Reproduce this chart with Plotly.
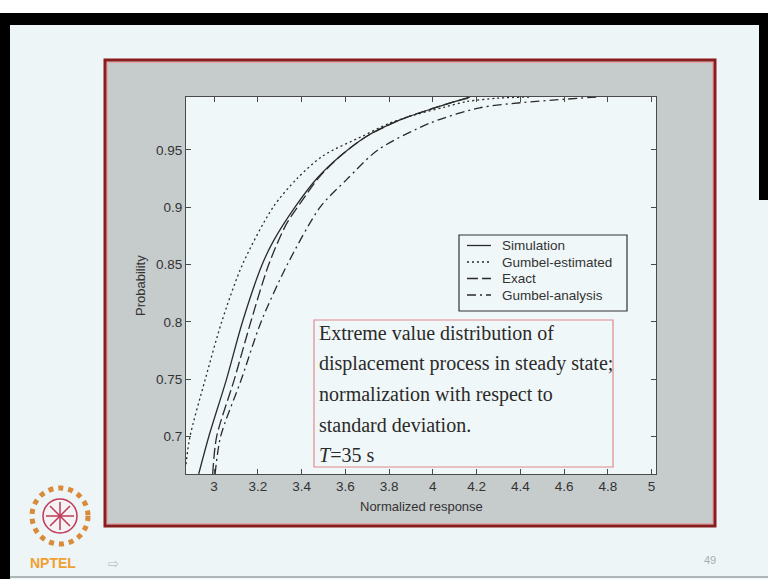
import plotly.graph_objects as go

# ---------------- data ----------------
sim_x = [2.930, 2.976, 3.057, 3.130, 3.220, 3.270, 3.370, 3.470, 3.580, 3.700, 3.850, 4.000, 4.100, 4.170]
sim_y = [0.6675, 0.700, 0.750, 0.800, 0.850, 0.870, 0.900, 0.925, 0.945, 0.962, 0.976, 0.986, 0.992, 0.996]

gest_x = [2.872, 2.890, 2.960, 3.035, 3.130, 3.270, 3.380, 3.500, 3.680, 3.800, 3.910, 4.050, 4.154, 4.300, 4.450]
gest_y = [0.676, 0.700, 0.750, 0.800, 0.850, 0.900, 0.925, 0.945, 0.962, 0.973, 0.980, 0.987, 0.992, 0.995, 0.996]

exact_x = [2.994, 3.012, 3.093, 3.168, 3.250, 3.330, 3.400, 3.480, 3.580, 3.700, 3.850, 4.000, 4.100, 4.180]
exact_y = [0.6675, 0.700, 0.750, 0.800, 0.850, 0.885, 0.905, 0.926, 0.945, 0.962, 0.976, 0.986, 0.992, 0.996]

gana_x = [3.005, 3.030, 3.125, 3.215, 3.335, 3.485, 3.606, 3.750, 3.990, 4.215, 4.400, 4.600, 4.750]
gana_y = [0.6675, 0.700, 0.750, 0.800, 0.850, 0.900, 0.924, 0.950, 0.9735, 0.9866, 0.991, 0.994, 0.996]

x_ticks = [3.0, 3.2, 3.4, 3.6, 3.8, 4.0, 4.2, 4.4, 4.6, 4.8, 5.0]
x_tick_text = ["3", "3.2", "3.4", "3.6", "3.8", "4", "4.2", "4.4", "4.6", "4.8", "5"]
y_ticks = [0.70, 0.75, 0.80, 0.85, 0.90, 0.95]
y_tick_text = ["0.7", "0.75", "0.8", "0.85", "0.9", "0.95"]

series_names = ["Simulation", "Gumbel-estimated", "Exact", "Gumbel-analysis"]

note_lines = [
    "Extreme value distribution of",
    "displacement process in steady state;",
    "normalization with respect to",
    "standard deviation.",
    "<i>T</i>=35 s",
]

# ---------------- layout geometry ----------------
W, H = 768, 579
L, R, T, B = 186, 656, 97, 474  # plot area in pixels


def px(xpix):
    return (xpix - L) / (R - L)


def py(ypix):
    return (B - ypix) / (B - T)


LINE_COL = "#2a2a2a"
SLIDE_BG = "#edf5f7"
BOX_GRAY = "#c6cbcc"
PLOT_BG = "#f0f7f8"
SANS = "Liberation Sans, Arial"

dashes = ["solid", "2px,3px", "11px,4px", "9px,4px,2px,4px"]

fig = go.Figure()
for name, xs, ys, dsh in zip(series_names,
                             [sim_x, gest_x, exact_x, gana_x],
                             [sim_y, gest_y, exact_y, gana_y], dashes):
    fig.add_trace(go.Scatter(x=xs, y=ys, mode="lines", name=name, showlegend=False,
                             line=dict(color=LINE_COL, width=1.3, dash=dsh,
                                       shape="spline", smoothing=0.8)))

shapes = []
# slide frame (black border bits of the video frame)
shapes.append(dict(type="rect", xref="paper", yref="paper", layer="below",
                   x0=px(0), x1=px(W), y0=py(0), y1=py(13), fillcolor="#ffffff", line_width=0))
shapes.append(dict(type="rect", xref="paper", yref="paper", layer="below",
                   x0=px(0), x1=px(W), y0=py(13), y1=py(25), fillcolor="#000000", line_width=0))
shapes.append(dict(type="rect", xref="paper", yref="paper", layer="below",
                   x0=px(0), x1=px(10), y0=py(13), y1=py(H), fillcolor="#000000", line_width=0))
shapes.append(dict(type="rect", xref="paper", yref="paper", layer="below",
                   x0=px(759), x1=px(W), y0=py(13), y1=py(200), fillcolor="#000000", line_width=0))
shapes.append(dict(type="line", xref="paper", yref="paper", layer="below",
                   x0=px(10), x1=px(W), y0=py(577), y1=py(577), line=dict(color="#9aa0a2", width=1.5)))
# gray panel with dark red border
shapes.append(dict(type="rect", xref="paper", yref="paper", layer="below",
                   x0=px(105), x1=px(715), y0=py(526), y1=py(60),
                   fillcolor=BOX_GRAY, line=dict(color="#8a1c1c", width=3)))
shapes.append(dict(type="rect", xref="paper", yref="paper", layer="below",
                   x0=px(107.5), x1=px(712.5), y0=py(523.5), y1=py(62.5),
                   fillcolor="rgba(0,0,0,0)", line=dict(color="#e6a3a8", width=1)))
# plot area background
shapes.append(dict(type="rect", xref="paper", yref="paper", layer="below",
                   x0=0, x1=1, y0=0, y1=1, fillcolor=PLOT_BG, line_width=0))
# text box
shapes.append(dict(type="rect", xref="paper", yref="paper", layer="above",
                   x0=px(314), x1=px(613), y0=py(467), y1=py(320),
                   fillcolor=PLOT_BG, line=dict(color="#e08a90", width=1.2)))
# legend box (drawn by hand to match the MATLAB legend)
shapes.append(dict(type="rect", xref="paper", yref="paper", layer="above",
                   x0=px(459), x1=px(627), y0=py(311), y1=py(235),
                   fillcolor=PLOT_BG, line=dict(color="#333333", width=1.2)))
legend_rows = [245.5, 262, 278.5, 295]
for yy, dsh in zip(legend_rows, dashes):
    shapes.append(dict(type="line", xref="paper", yref="paper", layer="above",
                       x0=px(467), x1=px(491), y0=py(yy), y1=py(yy),
                       line=dict(color=LINE_COL, width=1.3, dash=dsh)))
# NPTEL-like logo
shapes.append(dict(type="circle", xref="paper", yref="paper", layer="below",
                   x0=px(32), x1=px(88), y0=py(544), y1=py(488),
                   fillcolor="rgba(0,0,0,0)", line=dict(color="#d98a3a", width=5, dash="dot")))
shapes.append(dict(type="circle", xref="paper", yref="paper", layer="below",
                   x0=px(43), x1=px(77), y0=py(533), y1=py(499),
                   fillcolor="#f3f3f3", line=dict(color="#c0395a", width=1.5)))
for (ax0, ay0, ax1, ay1) in [(60, 502, 60, 530), (46, 516, 74, 516), (50, 506, 70, 526), (50, 526, 70, 506)]:
    shapes.append(dict(type="line", xref="paper", yref="paper", layer="below",
                       x0=px(ax0), x1=px(ax1), y0=py(ay0), y1=py(ay1),
                       line=dict(color="#c0395a", width=1.5)))

annotations = []


def note(text, x, y, size, family=SANS, color="#333333", xanchor="center", angle=0):
    annotations.append(dict(text=text, xref="paper", yref="paper", x=px(x), y=py(y),
                            xanchor=xanchor, yanchor="middle", showarrow=False, textangle=angle,
                            font=dict(family=family, size=size, color=color)))


# legend texts
for yy, name in zip(legend_rows, series_names):
    note(name, 500, yy, 13.5, xanchor="left")
# axis titles
note("Probability", 140, 286, 13, angle=-90)
note("Normalized response", 421, 506, 13)
# note text
for i, line in enumerate(note_lines):
    note(line, 317, 333 + 30.5 * i, 20, family="Liberation Serif, Times New Roman",
         color="#2a2a2a", xanchor="left")
# footer
note("<b>NPTEL</b>", 53, 563, 14, color="#f0a030")
note("⇨", 113, 563, 13, family="DejaVu Sans", color="#b8c0c4")
note("49", 710, 560, 11, color="#a8b0b4")

axis_common = dict(showline=True, mirror="ticks", linecolor="#4a4a4a", linewidth=1,
                   ticks="inside", ticklen=5, tickcolor="#4a4a4a", tickwidth=1,
                   showgrid=False, zeroline=False,
                   tickfont=dict(family=SANS, size=13.5, color="#333333"))

fig.update_layout(
    width=W, height=H,
    margin=dict(l=L, r=W - R, t=T, b=H - B, pad=0),
    paper_bgcolor=SLIDE_BG,
    plot_bgcolor="rgba(0,0,0,0)",
    xaxis=dict(range=[2.872, 5.02], tickvals=x_ticks, ticktext=x_tick_text, **axis_common),
    yaxis=dict(range=[0.6675, 0.996], tickvals=y_ticks, ticktext=y_tick_text, **axis_common),
    showlegend=False,
    shapes=shapes,
    annotations=annotations,
)

fig.write_html("out.html", config={"displayModeBar": False},
               post_script="document.body.style.margin='0';document.body.style.overflow='hidden';")
